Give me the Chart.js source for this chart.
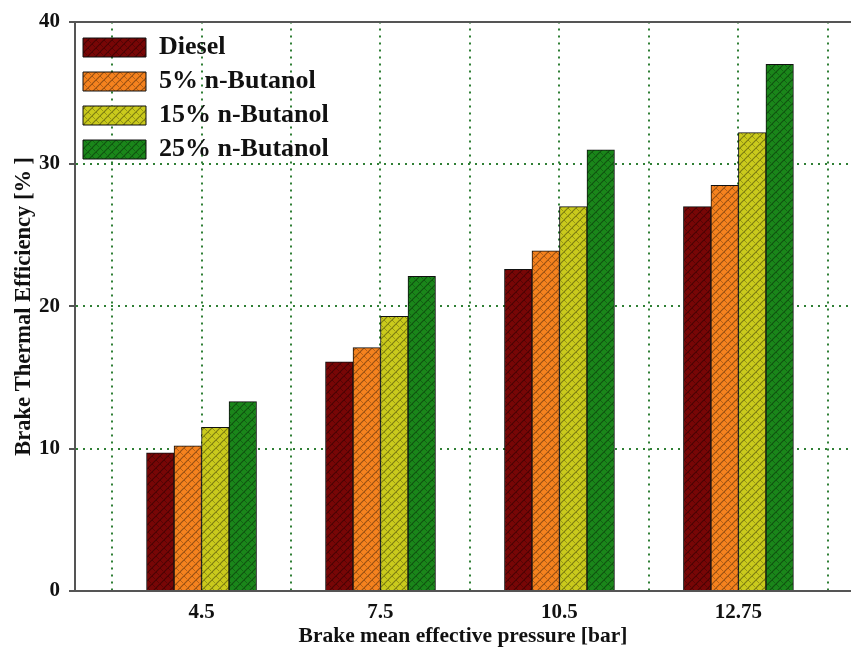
<!DOCTYPE html>
<html>
<head>
<meta charset="utf-8">
<script src="https://cdn.jsdelivr.net/npm/chart.js@4"></script>
<style>
  html, body { margin: 0; padding: 0; background: #fff; }
  #wrap { width: 851px; height: 649px; }
</style>
</head>
<body>
<div id="wrap"><canvas id="chart"></canvas></div>
<script>
// bmep categories (bar) and brake thermal efficiency (%)
const categories = ['4.5', '7.5', '10.5', '12.75'];
const diesel = [9.7, 16.1, 22.6, 27.0];
const butanol5 = [10.2, 17.1, 23.9, 28.5];
const butanol15 = [11.5, 19.3, 27.0, 32.2];
const butanol25 = [13.3, 22.1, 31.0, 37.0];
const yTicks = [0, 10, 20, 30, 40];

const FONT = "'Liberation Serif', 'Times New Roman', serif";

// woven hatch fill like the original plot
function makePattern(color) {
  const c = document.createElement('canvas');
  c.width = 8; c.height = 8;
  const g = c.getContext('2d');
  g.fillStyle = color;
  g.fillRect(0, 0, 8, 8);
  g.strokeStyle = 'rgba(0,0,0,0.38)';
  g.lineWidth = 1.2;
  g.beginPath();
  g.moveTo(0, 8); g.lineTo(8, 0);
  g.moveTo(-4, 4); g.lineTo(4, -4);
  g.moveTo(4, 12); g.lineTo(12, 4);
  g.stroke();
  g.strokeStyle = 'rgba(0,0,0,0.25)';
  g.lineWidth = 1;
  g.beginPath();
  g.moveTo(0, 0); g.lineTo(3, 3);
  g.moveTo(4, 4); g.lineTo(7, 7);
  g.stroke();
  return g.createPattern(c, 'repeat');
}

const toPoints = arr => arr.map((v, i) => ({ x: i + 1, y: v }));

const series = [
  { label: 'Diesel', values: diesel, color: '#780606' },
  { label: '5% n-Butanol', values: butanol5, color: '#f5821e' },
  { label: '15% n-Butanol', values: butanol15, color: '#caca1c' },
  { label: '25% n-Butanol', values: butanol25, color: '#1a861a' }
];

const gridGreen = '#2f7f35';
const axisGray = '#555';
const xMin = 0.293, xMax = 4.629;

new Chart(document.getElementById('chart'), {
  type: 'bar',
  data: {
    datasets: series.map(s => ({
      label: s.label,
      data: toPoints(s.values),
      backgroundColor: makePattern(s.color),
      borderColor: '#111',
      borderWidth: 1,
      borderSkipped: 'bottom',
      barThickness: 27.5
    }))
  },
  options: {
    responsive: true,
    maintainAspectRatio: false,
    animation: false,
    layout: { padding: { top: 20, right: 0, left: 0, bottom: 0 } },
    plugins: {
      tooltip: { enabled: false },
      legend: {
        position: 'chartArea',
        align: 'start',
        title: { display: true, text: '', padding: { top: 10, bottom: 10.5 }, font: { size: 6, lineHeight: 1 } },
        labels: {
          boxWidth: 63,
          boxHeight: 19,
          padding: 8,
          color: '#111',
          font: { family: FONT, size: 26, weight: 'bold' }
        }
      }
    },
    scales: {
      x: {
        type: 'linear',
        min: xMin,
        max: xMax,
        offset: false,
        grid: { color: gridGreen, lineWidth: 2, drawTicks: false, offset: false },
        border: { display: true, color: axisGray, width: 2, dash: [2, 5] },
        ticks: {
          stepSize: 0.5,
          includeBounds: false,
          autoSkip: false,
          maxRotation: 0,
          padding: 9,
          color: '#111',
          font: { family: FONT, size: 21, weight: 'bold' },
          callback: v => Number.isInteger(v) ? categories[v - 1] : ''
        },
        title: {
          display: true,
          text: 'Brake mean effective pressure [bar]',
          color: '#111',
          padding: { top: 0, bottom: 0 },
          font: { family: FONT, size: 21.5, weight: 'bold' }
        },
        afterFit: s => { s.height = 58; }
      },
      xTop: {
        type: 'linear',
        position: 'top',
        min: xMin,
        max: xMax,
        grid: { display: false, drawTicks: false, offset: false },
        border: { display: true, color: axisGray, width: 2 },
        ticks: { display: false },
        afterFit: s => { s.height = 0; }
      },
      y: {
        min: 0,
        max: 40,
        afterBuildTicks: s => { s.ticks = yTicks.map(v => ({ value: v })); },
        grid: {
          color: c => (c.tick && (c.tick.value === 0 || c.tick.value === 40)) ? 'rgba(0,0,0,0)' : gridGreen,
          lineWidth: 2,
          tickColor: axisGray,
          tickWidth: 2,
          tickLength: 6
        },
        border: { display: true, color: axisGray, width: 2, dash: [2, 5] },
        ticks: {
          padding: 9,
          color: '#111',
          font: { family: FONT, size: 21, weight: 'bold' }
        },
        title: {
          display: true,
          text: 'Brake Thermal Efficiency [% ]',
          color: '#111',
          padding: { top: 11, bottom: 0 },
          font: { family: FONT, size: 22.5, weight: 'bold' }
        },
        afterFit: s => { s.width = 75; }
      }
    }
  }
});
</script>
</body>
</html>
